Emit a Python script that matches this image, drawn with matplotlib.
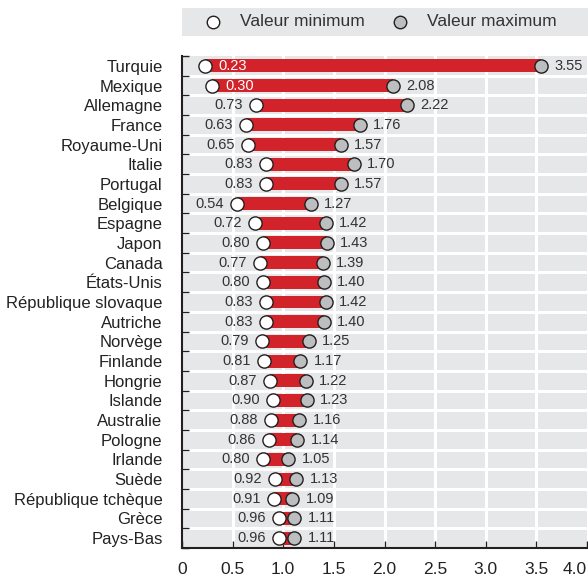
import matplotlib
matplotlib.use("Agg")
import matplotlib.pyplot as plt
import numpy as np

# Data
countries = ["Turquie", "Mexique", "Allemagne", "France", "Royaume-Uni", "Italie",
             "Portugal", "Belgique", "Espagne", "Japon", "Canada", "États-Unis",
             "République slovaque", "Autriche", "Norvège", "Finlande", "Hongrie",
             "Islande", "Australie", "Pologne", "Irlande", "Suède",
             "République tchèque", "Grèce", "Pays-Bas"]
min_vals = [0.23, 0.30, 0.73, 0.63, 0.65, 0.83, 0.83, 0.54, 0.72, 0.80, 0.77, 0.80,
            0.83, 0.83, 0.79, 0.81, 0.87, 0.90, 0.88, 0.86, 0.80, 0.92, 0.91, 0.96, 0.96]
max_vals = [3.55, 2.08, 2.22, 1.76, 1.57, 1.70, 1.57, 1.27, 1.42, 1.43, 1.39, 1.40,
            1.42, 1.40, 1.25, 1.17, 1.22, 1.23, 1.16, 1.14, 1.05, 1.13, 1.09, 1.11, 1.11]
x_ticks = [0, 0.5, 1.0, 1.5, 2.0, 2.5, 3.0, 3.5, 4.0]
x_ticklabels = ["0", "0.5", "1.0", "1.5", "2.0", "2.5", "3.0", "3.5", "4.0"]
inside_labels = ["Turquie", "Mexique"]

# Style
plt.rcParams["font.family"] = ["Liberation Sans", "DejaVu Sans"]
C_BG = "#e6e7e8"
C_RED = "#d2232a"
C_GREY = "#bcbec0"
C_EDGE = "#231f20"
C_TEXT = "#333333"

W, H = 588, 578
fig = plt.figure(figsize=(W / 100, H / 100), dpi=100)
ax = fig.add_axes([182 / W, 1 - 548 / H, 405 / W, 492 / H])
ax.set_facecolor(C_BG)

n = len(countries)
y = np.arange(n)
ax.set_ylim(n - 0.5, -0.5)
ax.set_xlim(0, 4.0)

# grid
for xv in x_ticks[1:-1]:
    ax.axvline(xv, color="white", lw=2.2, zorder=1)
for yb in np.arange(0.5, n - 0.5, 1):
    ax.axhline(yb, color="white", lw=2.2, zorder=1)

# bars and markers
mins = np.array(min_vals)
maxs = np.array(max_vals)
ax.barh(y, maxs - mins, left=mins, height=0.66, color=C_RED, zorder=2)
ax.plot(mins, y, "o", ms=9.5, mfc="white", mec=C_EDGE, mew=1.0, ls="none", zorder=3)
ax.plot(maxs, y, "o", ms=9.5, mfc=C_GREY, mec=C_EDGE, mew=1.0, ls="none", zorder=3)

for i, c in enumerate(countries):
    if c in inside_labels:
        ax.text(mins[i] + 0.13, y[i], f"{mins[i]:.2f}", ha="left", va="center",
                color="white", fontsize=10.5, zorder=4)
    else:
        ax.text(mins[i] - 0.13, y[i], f"{mins[i]:.2f}", ha="right", va="center",
                color=C_TEXT, fontsize=10.5, zorder=4)
    ax.text(maxs[i] + 0.13, y[i], f"{maxs[i]:.2f}", ha="left", va="center",
            color=C_TEXT, fontsize=10.5, zorder=4)

# axes styling
ax.set_yticks(y)
ax.set_yticklabels(countries, fontsize=12, color="#222222")
ax.set_yticks(np.arange(-0.5, n, 1), minor=True)
ax.tick_params(axis="y", which="major", length=0, pad=14)
ax.tick_params(axis="y", which="minor", length=5, direction="in", color=C_EDGE, width=1)
ax.set_xticks(x_ticks)
ax.set_xticklabels(x_ticklabels, fontsize=12.5, color="#222222")
ax.get_xticklabels()[-1].set_horizontalalignment("right")
ax.tick_params(axis="x", length=5, direction="in", color=C_EDGE, width=1, pad=10)
for s in ["top", "right"]:
    ax.spines[s].set_visible(False)
for s in ["left", "bottom"]:
    ax.spines[s].set_color(C_EDGE)
    ax.spines[s].set_linewidth(1.5)

# legend strip
lax = fig.add_axes([182 / W, 1 - 36 / H, 406 / W, 28 / H])
lax.set_facecolor(C_BG)
lax.set_xlim(0, W - 182)
lax.set_ylim(0, 1)
lax.set_xticks([])
lax.set_yticks([])
for s in lax.spines.values():
    s.set_visible(False)
lax.plot([31], [0.5], "o", ms=9, mfc="white", mec=C_EDGE, mew=1.0)
lax.plot([218], [0.5], "o", ms=9, mfc=C_GREY, mec=C_EDGE, mew=1.0)
lax.text(58, 0.5, "Valeur minimum", ha="left", va="center", fontsize=12.5, color="#333333")
lax.text(245, 0.5, "Valeur maximum", ha="left", va="center", fontsize=12.5, color="#333333")

fig.savefig("out.png", dpi=100)
